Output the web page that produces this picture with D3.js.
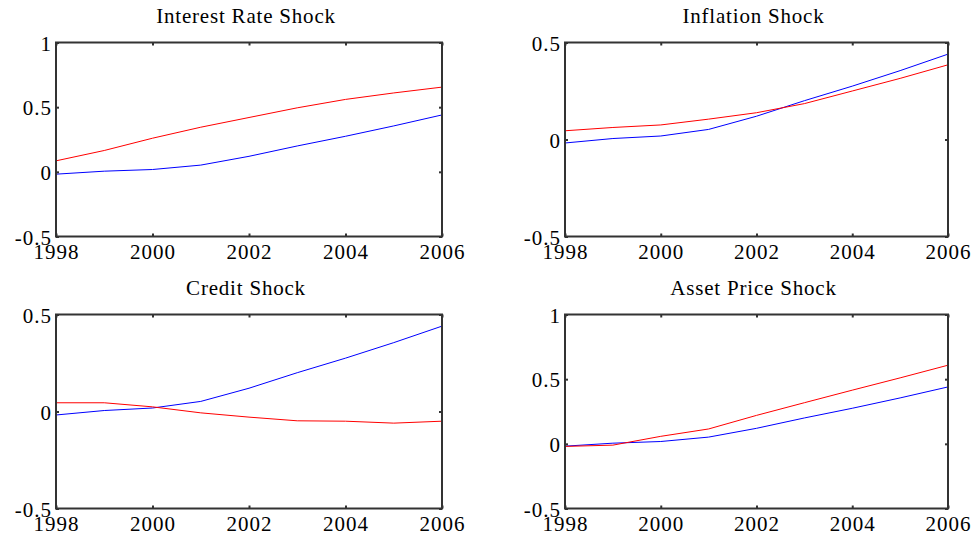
<!DOCTYPE html>
<html>
<head>
<meta charset="utf-8">
<script src="https://cdn.jsdelivr.net/npm/d3@7"></script>
<style>
  html, body { margin: 0; padding: 0; background: #fff; }
  svg { display: block; }
  text { font-family: "Liberation Serif", "Times New Roman", serif; fill: #000; }
</style>
</head>
<body>
<svg id="chart" width="976" height="543"></svg>
<script>
// ---- Data ----
const years = [1998, 1999, 2000, 2001, 2002, 2003, 2004, 2005, 2006];
const xTicks = [1998, 2000, 2002, 2004, 2006];
const baseline = [-0.018, 0.005, 0.018, 0.052, 0.12, 0.2, 0.275, 0.355, 0.44];
const interestRed = [0.085, 0.165, 0.26, 0.345, 0.42, 0.495, 0.56, 0.61, 0.655];
const inflationRed = [0.045, 0.062, 0.075, 0.105, 0.138, 0.185, 0.25, 0.315, 0.385];
const creditRed = [0.045, 0.045, 0.024, -0.007, -0.029, -0.048, -0.05, -0.06, -0.05];
const assetRed = [-0.02, -0.01, 0.058, 0.115, 0.22, 0.318, 0.415, 0.51, 0.608];
const titles = ["Interest Rate Shock", "Inflation Shock", "Credit Shock", "Asset Price Shock"];
const yTicksWide = [-0.5, 0, 0.5, 1];
const yTicksNarrow = [-0.5, 0, 0.5];
const yTickLabels = { "-0.5": "-0.5", "0": "0", "0.5": "0.5", "1": "1" };

const panels = [
  { title: titles[0], red: interestRed, yDomain: [-0.5, 1], yTicks: yTicksWide, x0: 56, x1: 442, y0: 42.5, y1: 236.5 },
  { title: titles[1], red: inflationRed, yDomain: [-0.5, 0.5], yTicks: yTicksNarrow, x0: 565, x1: 948, y0: 42.5, y1: 236.5 },
  { title: titles[2], red: creditRed, yDomain: [-0.5, 0.5], yTicks: yTicksNarrow, x0: 56, x1: 442, y0: 314.5, y1: 508.5 },
  { title: titles[3], red: assetRed, yDomain: [-0.5, 1], yTicks: yTicksWide, x0: 565, x1: 948, y0: 314.5, y1: 508.5 }
];

const svg = d3.select("#chart");
const axisColor = "#333";
const fmtY = d => yTickLabels[String(d)];

panels.forEach(p => {
  const x = d3.scaleLinear().domain([1998, 2006]).range([p.x0, p.x1]);
  const y = d3.scaleLinear().domain(p.yDomain).range([p.y1, p.y0]);
  const g = svg.append("g");

  // data lines
  const line = d3.line().x((d, i) => x(years[i])).y(d => y(d));
  g.append("path").datum(baseline).attr("d", line)
    .attr("fill", "none").attr("stroke", "#0000ff").attr("stroke-width", 1);
  g.append("path").datum(p.red).attr("d", line)
    .attr("fill", "none").attr("stroke", "#ff0000").attr("stroke-width", 1);

  // axes (inward ticks on all sides)
  const bottom = g.append("g").attr("transform", `translate(0,${p.y1})`)
    .call(d3.axisBottom(x).tickValues(xTicks).tickSize(-3).tickPadding(8).tickFormat(d3.format("d")));
  const top = g.append("g").attr("transform", `translate(0,${p.y0})`)
    .call(d3.axisTop(x).tickValues(xTicks).tickSize(-3).tickFormat(""));
  const left = g.append("g").attr("transform", `translate(${p.x0},0)`)
    .call(d3.axisLeft(y).tickValues(p.yTicks).tickSize(-3).tickPadding(4).tickFormat(fmtY));
  const right = g.append("g").attr("transform", `translate(${p.x1},0)`)
    .call(d3.axisRight(y).tickValues(p.yTicks).tickSize(-3).tickFormat(""));

  [bottom, top, left, right].forEach(a => {
    a.select(".domain").remove();
    a.selectAll(".tick line").attr("stroke", axisColor).attr("stroke-width", 2);
    a.selectAll(".tick text")
      .style("font-family", '"Liberation Serif", "Times New Roman", serif')
      .style("font-size", "21px").style("letter-spacing", "1px").attr("fill", "#000");
  });
  left.selectAll(".tick text").attr("dy", "0.36em");

  // box
  g.append("rect").attr("x", p.x0).attr("y", p.y0)
    .attr("width", p.x1 - p.x0).attr("height", p.y1 - p.y0)
    .attr("fill", "none").attr("stroke", axisColor).attr("stroke-width", 2);

  // title
  g.append("text").attr("x", (p.x0 + p.x1) / 2 - 3).attr("y", p.y0 - 20)
    .attr("text-anchor", "middle")
    .style("font-size", "21px").style("letter-spacing", "0.8px")
    .text(p.title);
});
</script>
</body>
</html>
